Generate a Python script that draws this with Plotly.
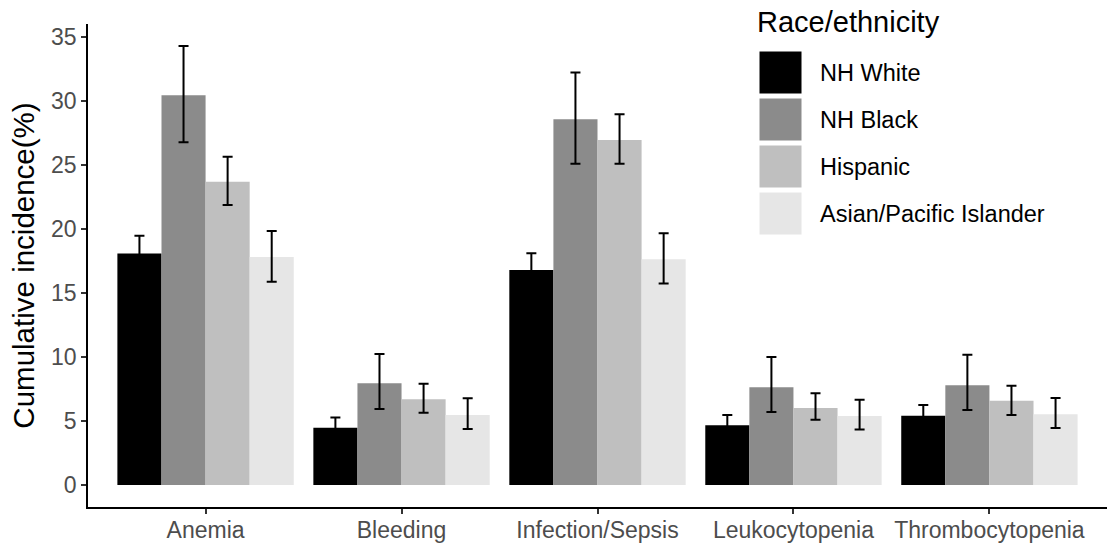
import plotly.graph_objects as go

categories = ["Anemia", "Bleeding", "Infection/Sepsis", "Leukocytopenia", "Thrombocytopenia"]
groups = ["NH White", "NH Black", "Hispanic", "Asian/Pacific Islander"]
colors = ["#000000", "#8B8B8B", "#BFBFBF", "#E6E6E6"]

values = {
    "NH White": [18.08, 4.47, 16.78, 4.66, 5.41],
    "NH Black": [30.42, 7.94, 28.55, 7.63, 7.80],
    "Hispanic": [23.68, 6.69, 26.93, 6.01, 6.58],
    "Asian/Pacific Islander": [17.80, 5.46, 17.62, 5.39, 5.52],
}
upper = {
    "NH White": [19.46, 5.28, 18.10, 5.46, 6.25],
    "NH Black": [34.27, 10.23, 32.20, 9.99, 10.17],
    "Hispanic": [25.63, 7.91, 28.94, 7.16, 7.75],
    "Asian/Pacific Islander": [19.83, 6.77, 19.65, 6.66, 6.79],
}
lower = {
    "NH White": [16.70, 3.66, 15.46, 3.86, 4.57],
    "NH Black": [26.75, 5.93, 25.08, 5.70, 5.86],
    "Hispanic": [21.86, 5.65, 25.08, 5.10, 5.46],
    "Asian/Pacific Islander": [15.87, 4.37, 15.74, 4.34, 4.45],
}
y_ticks = [0, 5, 10, 15, 20, 25, 30, 35]

FONT = "Liberation Sans, Arial, sans-serif"

fig = go.Figure()
for g, c in zip(groups, colors):
    v = values[g]
    fig.add_trace(go.Bar(
        name=g, x=categories, y=v,
        marker=dict(color=c, line=dict(width=0)),
        error_y=dict(type="data", symmetric=False,
                     array=[u - a for u, a in zip(upper[g], v)],
                     arrayminus=[a - l for a, l in zip(v, lower[g])],
                     color="black", thickness=2, width=5),
        showlegend=False,
    ))

# manual legend (ggplot style)
L, R, T, B = 88, 1107, 24, 507
W, H = R - L, B - T
def px(x):
    return (x - L) / W
def py(y):
    return (B - y) / H

key_tops = [51, 98, 145, 192]
for g, c, top in zip(groups, colors, key_tops):
    fig.add_shape(type="rect", xref="paper", yref="paper",
                  x0=px(759), x1=px(802), y0=py(top + 43), y1=py(top),
                  fillcolor=c, line=dict(width=1, color="white"), layer="above")
    fig.add_annotation(xref="paper", yref="paper", x=px(818), y=py(top + 22),
                       text=g, showarrow=False, xanchor="left", yanchor="middle",
                       font=dict(family=FONT, size=23.5, color="black"))
fig.add_annotation(xref="paper", yref="paper", x=px(755), y=py(22),
                   text="Race/ethnicity", showarrow=False, xanchor="left", yanchor="middle",
                   font=dict(family=FONT, size=29, color="black"))

fig.update_layout(
    width=1108, height=549,
    margin=dict(l=L, r=1108 - R, t=T, b=549 - B, autoexpand=False),
    paper_bgcolor="white", plot_bgcolor="white",
    barmode="group", bargap=0.1, bargroupgap=0,
    font=dict(family=FONT),
)
fig.update_xaxes(
    range=[-0.6, 4.6], showline=True, linecolor="black", linewidth=1.8,
    ticks="outside", ticklen=5, tickcolor="#333333", tickwidth=1.5,
    tickfont=dict(family=FONT, size=23, color="#4D4D4D"), ticklabelstandoff=-4,
    showgrid=False, zeroline=False, automargin=False,
)
fig.update_yaxes(
    range=[-1.71, 35.98], tickvals=y_ticks, showline=True, linecolor="black", linewidth=1.8,
    ticks="outside", ticklen=5, tickcolor="#333333", tickwidth=1.5,
    tickfont=dict(family=FONT, size=23, color="#4D4D4D"),
    showgrid=False, zeroline=False, automargin=False,
    title=dict(text="Cumulative incidence(%)", font=dict(family=FONT, size=29.5, color="black"), standoff=8),
)

fig.write_html("out.html", config={"displayModeBar": False},
               post_script="document.body.style.margin='0';document.body.style.overflow='hidden';")
